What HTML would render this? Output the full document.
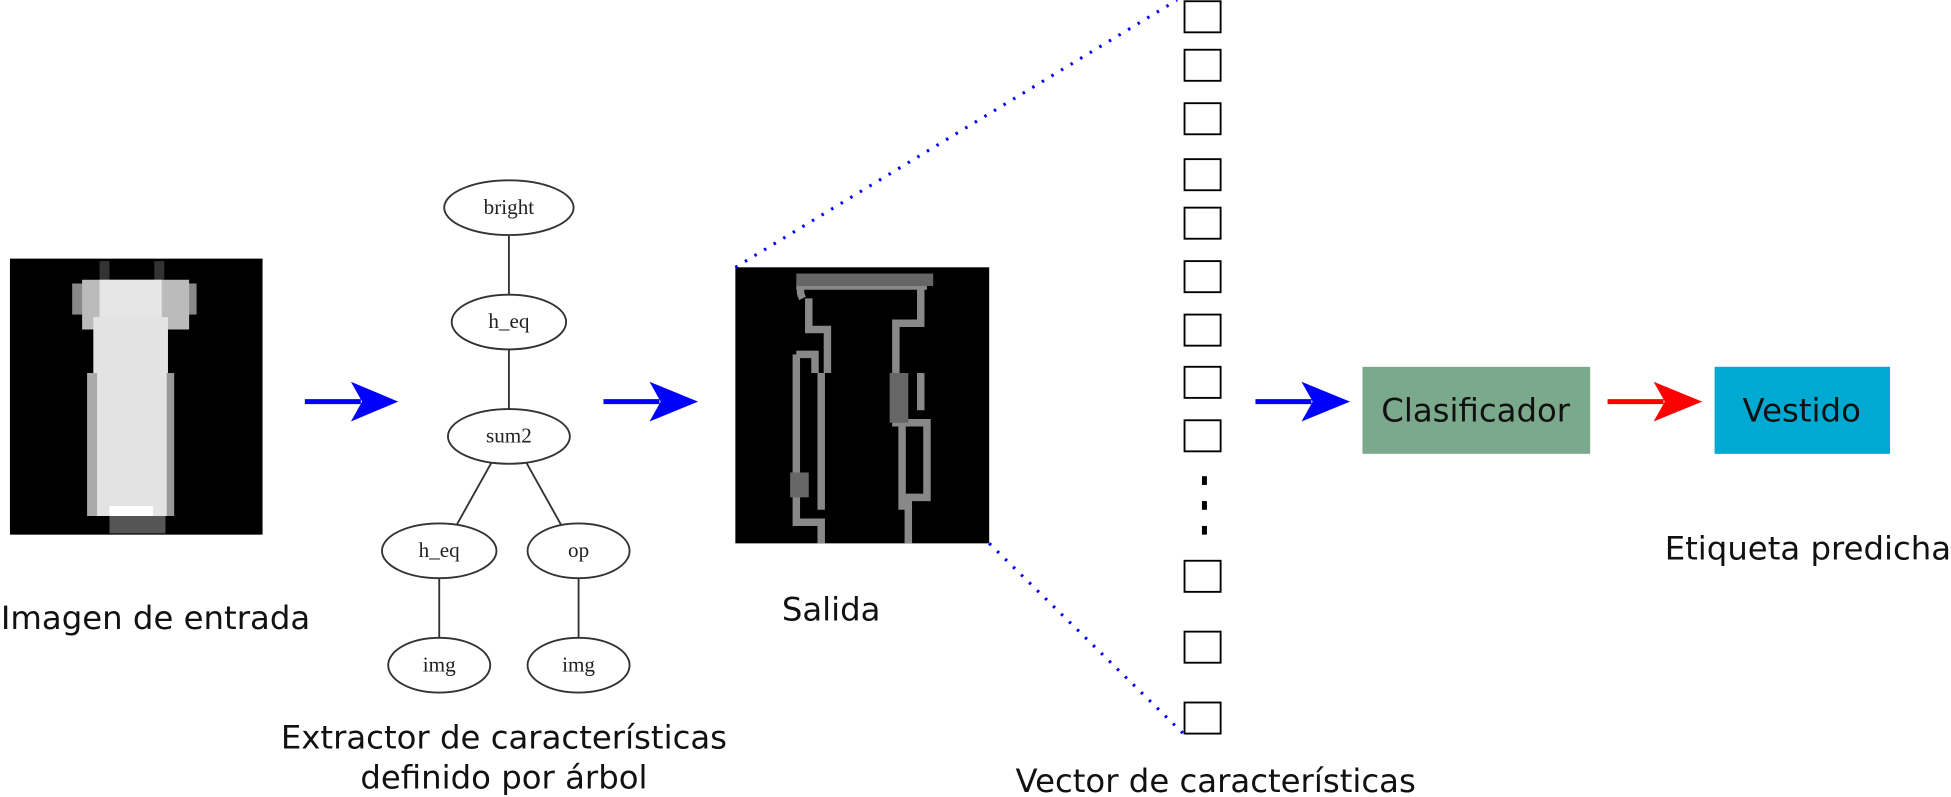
<!DOCTYPE html>
<html><head><meta charset="utf-8"><style>
html,body{margin:0;padding:0;background:#fff;}
svg{display:block;}
text{font-family:"DejaVu Sans","Liberation Sans",sans-serif;}
</style></head><body>
<svg width="1951" height="797" viewBox="0 0 1568 641" preserveAspectRatio="none" xmlns="http://www.w3.org/2000/svg">
<!-- input image -->
<g>
<rect x="8" y="208" width="203" height="222" fill="#000"/>
<rect x="80" y="210" width="8" height="15" fill="#333"/>
<rect x="124" y="210" width="8" height="15" fill="#333"/>
<rect x="58" y="228" width="100" height="25" fill="#888"/>
<rect x="66" y="225" width="86" height="40" fill="#bbb"/>
<rect x="80" y="225" width="50" height="30" fill="#e6e6e6"/>
<rect x="75" y="255" width="60" height="160" fill="#e3e3e3"/>
<rect x="70" y="300" width="8" height="115" fill="#aaa"/>
<rect x="134" y="300" width="6" height="115" fill="#999"/>
<rect x="88" y="407" width="35" height="8" fill="#fff"/>
<rect x="88" y="415" width="45" height="14" fill="#555"/>
</g>
<g>
<line x1="245" y1="323" x2="290" y2="323" stroke="#00f" stroke-width="4"/>
<polygon points="282,307 320,323 282,339 291,323" fill="#00f"/>
</g>
<g stroke="#333" stroke-width="1.5" fill="#fff">
<line x1="409" y1="189" x2="409" y2="237"/>
<line x1="409" y1="281" x2="409" y2="329"/>
<line x1="395" y1="372" x2="366" y2="424"/>
<line x1="423" y1="372" x2="452" y2="424"/>
<line x1="353" y1="465" x2="353" y2="513"/>
<line x1="465" y1="465" x2="465" y2="513"/>
<ellipse cx="409" cy="167" rx="52" ry="22"/>
<ellipse cx="409" cy="259" rx="46" ry="22"/>
<ellipse cx="409" cy="351" rx="49" ry="22"/>
<ellipse cx="353" cy="443" rx="46" ry="22"/>
<ellipse cx="465" cy="443" rx="41" ry="22"/>
<ellipse cx="353" cy="535" rx="41" ry="22"/>
<ellipse cx="465" cy="535" rx="41" ry="22"/>
</g>
<g font-size="17" fill="#222" text-anchor="middle">
<text x="409" y="172" style="font-family:'Liberation Serif',serif">bright</text>
<text x="409" y="264" style="font-family:'Liberation Serif',serif">h_eq</text>
<text x="409" y="356" style="font-family:'Liberation Serif',serif">sum2</text>
<text x="353" y="448" style="font-family:'Liberation Serif',serif">h_eq</text>
<text x="465" y="448" style="font-family:'Liberation Serif',serif">op</text>
<text x="353" y="540" style="font-family:'Liberation Serif',serif">img</text>
<text x="465" y="540" style="font-family:'Liberation Serif',serif">img</text>
</g>
<g>
<line x1="485" y1="323" x2="530" y2="323" stroke="#00f" stroke-width="4"/>
<polygon points="522,307 561,323 522,339 531,323" fill="#00f"/>
</g>
<g>
<rect x="591" y="215" width="204" height="222" fill="#000"/>
<g fill="none" stroke="#888" stroke-width="6">
<path d="M640,230 H745 M645,240 Q640,230 650,228 H740 V260 H720 V300 M650,240 V265 H665 V300"/>
<path d="M640,285 V420 H660 V437 M640,285 H655 V300"/>
<path d="M720,300 V340 H745 V400 H730 V437 M740,300 V330"/>
<path d="M660,300 V410 M725,340 V410"/>
</g>
<g fill="#666">
<rect x="640" y="220" width="110" height="10"/>
<rect x="635" y="380" width="15" height="20"/>
<rect x="715" y="300" width="15" height="40"/>
</g>
</g>
<line x1="591" y1="215" x2="946" y2="0" stroke="#00f" stroke-width="2.5" stroke-dasharray="2,7"/>
<line x1="795" y1="437" x2="951" y2="590" stroke="#00f" stroke-width="2.5" stroke-dasharray="2,7"/>
<g fill="#fff" stroke="#000" stroke-width="1.5">
<rect x="952" y="1" width="29" height="25"/>
<rect x="952" y="40" width="29" height="25"/>
<rect x="952" y="83" width="29" height="25"/>
<rect x="952" y="128" width="29" height="25"/>
<rect x="952" y="167" width="29" height="25"/>
<rect x="952" y="210" width="29" height="25"/>
<rect x="952" y="253" width="29" height="25"/>
<rect x="952" y="295" width="29" height="25"/>
<rect x="952" y="338" width="29" height="25"/>
<rect x="952" y="451" width="29" height="25"/>
<rect x="952" y="508" width="29" height="25"/>
<rect x="952" y="565" width="29" height="25"/>
</g>
<g fill="#000">
<rect x="966" y="383" width="4" height="7"/>
<rect x="966" y="403" width="4" height="7"/>
<rect x="966" y="423" width="4" height="7"/>
</g>
<g>
<line x1="1009" y1="323" x2="1054" y2="323" stroke="#00f" stroke-width="4"/>
<polygon points="1046,307 1085,323 1046,339 1055,323" fill="#00f"/>
</g>
<g>
<rect x="1095" y="295" width="183" height="70" fill="#7ba98c"/>
<text x="1186" y="339" font-size="26" text-anchor="middle" fill="#111">Clasificador</text>
</g>
<g>
<line x1="1292" y1="323" x2="1337" y2="323" stroke="#f00" stroke-width="4"/>
<polygon points="1329,307 1368,323 1329,339 1338,323" fill="#f00"/>
</g>
<g>
<rect x="1378" y="295" width="141" height="70" fill="#00a9d1"/>
<text x="1448" y="339" font-size="26" text-anchor="middle" fill="#111">Vestido</text>
</g>
<g font-size="26" fill="#111" text-anchor="middle">
<text x="125" y="506">Imagen de entrada</text>
<text x="405" y="602">Extractor de características</text>
<text x="405" y="634">definido por árbol</text>
<text x="668" y="499">Salida</text>
<text x="977" y="637">Vector de características</text>
<text x="1453" y="450">Etiqueta predicha</text>
</g>
</svg>
</body></html>
